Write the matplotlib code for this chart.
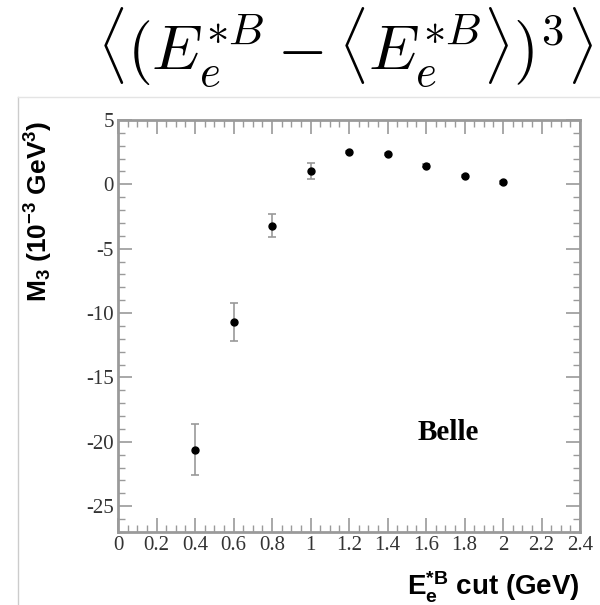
import matplotlib
matplotlib.use('Agg')
import matplotlib.pyplot as plt
from matplotlib.ticker import MultipleLocator
from matplotlib.lines import Line2D

plt.rcParams['axes.unicode_minus'] = False
plt.rcParams['mathtext.fontset'] = 'custom'
plt.rcParams['mathtext.rm'] = 'Liberation Sans:bold'
plt.rcParams['mathtext.it'] = 'Liberation Sans:bold'
plt.rcParams['mathtext.bf'] = 'Liberation Sans:bold'

# data
cut = [0.4, 0.6, 0.8, 1.0, 1.2, 1.4, 1.6, 1.8, 2.0]
m3 = [-20.6, -10.7, -3.2, 1.05, 2.5, 2.35, 1.45, 0.65, 0.15]
m3_err = [2.0, 1.45, 0.9, 0.6, 0.1, 0.1, 0.1, 0.1, 0.1]

fig = plt.figure(figsize=(6.0, 6.05), dpi=100)
ax = fig.add_axes([0.1967, 0.1207, 0.77, 0.681])

gray = '#9a9a9a'
ax.errorbar(cut, m3, yerr=m3_err, fmt='o', color='black', ms=5,
            ecolor='#999999', elinewidth=1.2, capsize=3, capthick=1.2)

ax.set_xlim(0, 2.4)
ax.set_ylim(-27, 5)
ax.xaxis.set_minor_locator(MultipleLocator(0.05))
ax.yaxis.set_major_locator(MultipleLocator(5))
ax.yaxis.set_minor_locator(MultipleLocator(1))
ax.set_xticks([0, 0.2, 0.4, 0.6, 0.8, 1, 1.2, 1.4, 1.6, 1.8, 2, 2.2, 2.4])
ax.set_xticklabels(['0', '0.2', '0.4', '0.6', '0.8', '1', '1.2', '1.4', '1.6', '1.8', '2', '2.2', '2.4'])

for sp in ax.spines.values():
    sp.set_color(gray)
    sp.set_linewidth(2)
ax.tick_params(which='both', direction='in', top=True, right=True, color=gray)
ax.tick_params(which='major', length=10, width=1.2, labelsize=15, labelcolor='#333333', pad=3)
ax.tick_params(which='minor', length=5, width=1.0)
for lab in ax.get_xticklabels() + ax.get_yticklabels():
    lab.set_fontfamily('Liberation Serif')

ax.text(0.649, 0.223, 'Belle', transform=ax.transAxes, fontsize=21,
        fontfamily='Liberation Serif', fontweight='bold', va='baseline', ha='left')

fig.text(580/600, 1 - 587/605, r'E$_\mathrm{e}^\mathrm{*B}$ cut (GeV)', ha='right', va='center',
         fontsize=20, fontfamily='Liberation Sans', fontweight='bold')
fig.text(39/600, 1 - 211/605, r'M$_\mathrm{3}$ (10$^\mathrm{\u2010 3}$ GeV$^\mathrm{3}$)'.replace('\\u2010 ', '-'),
         ha='center', va='center', rotation=90, fontsize=19, fontfamily='Liberation Sans', fontweight='bold')

fig.text(345/600, 1 - 48/605, r'$\langle(E_e^{*B} - \langle E_e^{*B}\rangle)^3\rangle$',
         ha='center', va='center', fontsize=46, math_fontfamily='cm')

# frame of the pasted figure
fig.add_artist(Line2D([18/600, 18/600], [0, 1 - 97/605], transform=fig.transFigure, color='#cccccc', lw=1))
fig.add_artist(Line2D([18/600, 1], [1 - 97/605, 1 - 97/605], transform=fig.transFigure, color='#e4e4e4', lw=1))

fig.savefig('out.png', dpi=100)
